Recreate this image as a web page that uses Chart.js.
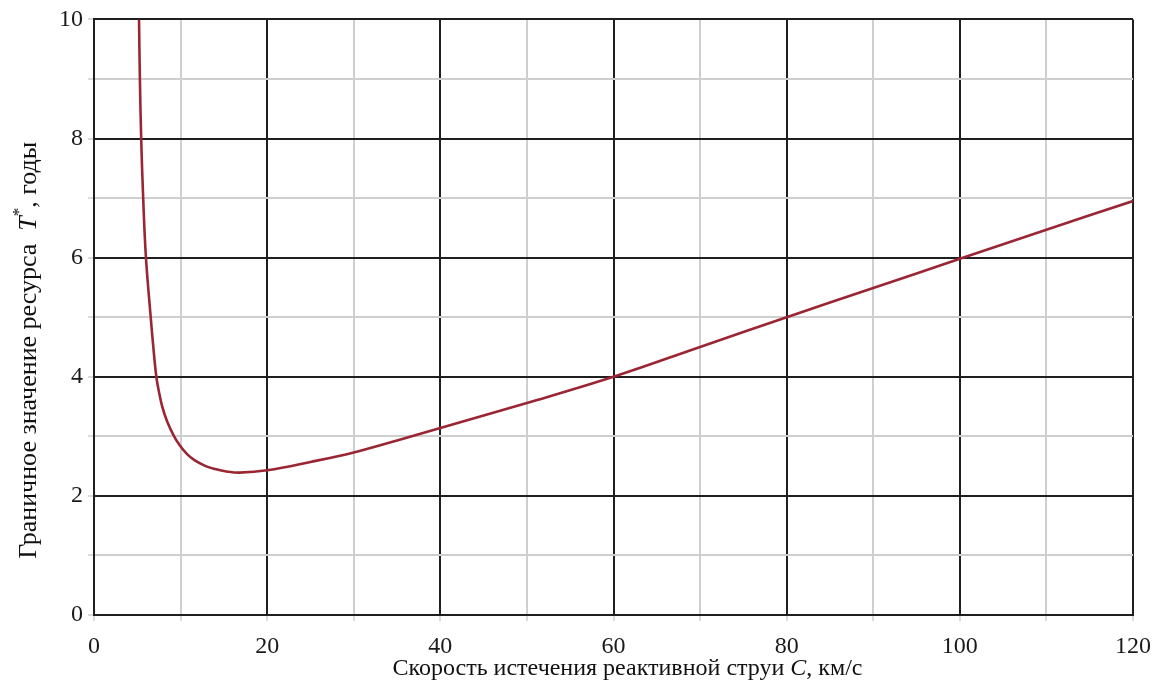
<!DOCTYPE html>
<html lang="ru">
<head>
<meta charset="utf-8">
<title>Граничное значение ресурса</title>
<script src="https://cdn.jsdelivr.net/npm/chart.js@4/dist/chart.umd.min.js"></script>
<style>
  html, body { margin: 0; padding: 0; background: #ffffff; }
  #wrap { width: 1166px; height: 688px; }
</style>
</head>
<body>
<div id="wrap"><canvas id="chart" width="1166" height="688"></canvas></div>
<script>
// Exhaust velocity C, km/s
const speedC = [5.2, 5.3, 5.45, 5.68, 6.0, 6.55, 6.85, 7.2, 7.5, 7.88, 8.45, 9.25, 9.9, 10.75, 11.6, 12.9, 14.0, 15.3, 16.8, 20, 25, 30, 35, 40, 50, 60, 70, 80, 90, 100, 110, 120];
// Limiting resource value T*, years
const resourceT = [10, 9, 8, 7, 6, 5, 4.5, 4, 3.75, 3.5, 3.25, 3.0, 2.85, 2.7, 2.6, 2.5, 2.45, 2.41, 2.39, 2.43, 2.57, 2.73, 2.93, 3.14, 3.56, 4.0, 4.5, 5.0, 5.49, 5.98, 6.47, 6.95];

const xRange = [0, 120];
const yRange = [0, 10];
const xMajorStep = 20, xMinorStep = 10;
const yMajorStep = 2, yMinorStep = 1;

const xTitleParts = [
  { text: 'Скорость истечения реактивной струи ', style: 'normal' },
  { text: 'C', style: 'italic' },
  { text: ', км/с', style: 'normal' }
];
const yTitleParts = [
  { text: 'Граничное значение ресурса  ', style: 'normal' },
  { text: 'T', style: 'italic' },
  { text: '*', style: 'sup' },
  { text: ', годы', style: 'normal' }
];

const SERIF = '"Liberation Serif", "Times New Roman", serif';
const MAJOR = '#1f1f1f';
const MINOR = '#cfcfcf';
const CURVE = '#9a2634';

const points = speedC.map((c, i) => ({ x: c, y: resourceT[i] }));

function isMajor(v, step) {
  return Math.abs(v / step - Math.round(v / step)) < 1e-9;
}

// Draws an axis title made of runs with different font styles
function drawRuns(ctx, parts, size) {
  const fontFor = p => {
    if (p.style === 'italic') return `italic ${size}px ${SERIF}`;
    if (p.style === 'sup') return `${Math.round(size * 0.65)}px ${SERIF}`;
    return `${size}px ${SERIF}`;
  };
  let total = 0;
  parts.forEach(p => { ctx.font = fontFor(p); total += ctx.measureText(p.text).width; });
  let x = -total / 2;
  parts.forEach(p => {
    ctx.font = fontFor(p);
    const dy = p.style === 'sup' ? -size * 0.35 : 0;
    ctx.fillText(p.text, x, dy);
    x += ctx.measureText(p.text).width;
  });
}

const axisTitles = {
  id: 'axisTitles',
  afterDraw(chart) {
    const { ctx, chartArea } = chart;
    ctx.save();
    ctx.fillStyle = '#111';
    ctx.textBaseline = 'middle';
    ctx.textAlign = 'left';
    ctx.save();
    ctx.translate((chartArea.left + chartArea.right) / 2 + 14, chartArea.bottom + 54);
    drawRuns(ctx, xTitleParts, 24);
    ctx.restore();
    ctx.save();
    ctx.translate(chartArea.left - 65, (chartArea.top + chartArea.bottom) / 2 + 33);
    ctx.rotate(-Math.PI / 2);
    drawRuns(ctx, yTitleParts, 26);
    ctx.restore();
    ctx.restore();
  }
};

new Chart(document.getElementById('chart'), {
  type: 'line',
  data: {
    datasets: [{
      data: points,
      borderColor: CURVE,
      borderWidth: 2.6,
      pointRadius: 0,
      fill: false,
      tension: 0.4
    }]
  },
  options: {
    responsive: false,
    animation: false,
    layout: { padding: { left: 0, top: 15, right: 33, bottom: 0 } },
    plugins: { legend: { display: false }, tooltip: { enabled: false } },
    scales: {
      x: {
        type: 'linear',
        min: xRange[0],
        max: xRange[1],
        afterFit(scale) { scale.height = 73; },
        border: { display: true, color: MAJOR, width: 2 },
        grid: {
          color: ctx => isMajor(ctx.tick.value, xMajorStep) ? MAJOR : MINOR,
          lineWidth: 2,
          tickLength: 6,
          tickColor: MINOR,
          tickWidth: 1.5
        },
        ticks: {
          stepSize: xMinorStep,
          autoSkip: false,
          maxRotation: 0,
          padding: 11,
          color: '#1a1a1a',
          font: { family: SERIF, size: 24 },
          callback: v => isMajor(v, xMajorStep) ? String(v) : ''
        }
      },
      y: {
        type: 'linear',
        min: yRange[0],
        max: yRange[1],
        afterFit(scale) { scale.width = 94; },
        border: { display: true, color: MAJOR, width: 2 },
        grid: {
          color: ctx => isMajor(ctx.tick.value, yMajorStep) ? MAJOR : MINOR,
          lineWidth: 2,
          tickLength: 6,
          tickColor: MINOR,
          tickWidth: 1.5
        },
        ticks: {
          stepSize: yMinorStep,
          autoSkip: false,
          padding: 5,
          color: '#1a1a1a',
          font: { family: SERIF, size: 24 },
          callback: v => isMajor(v, yMajorStep) ? String(v) : ''
        }
      }
    }
  },
  plugins: [axisTitles]
});
</script>
</body>
</html>
